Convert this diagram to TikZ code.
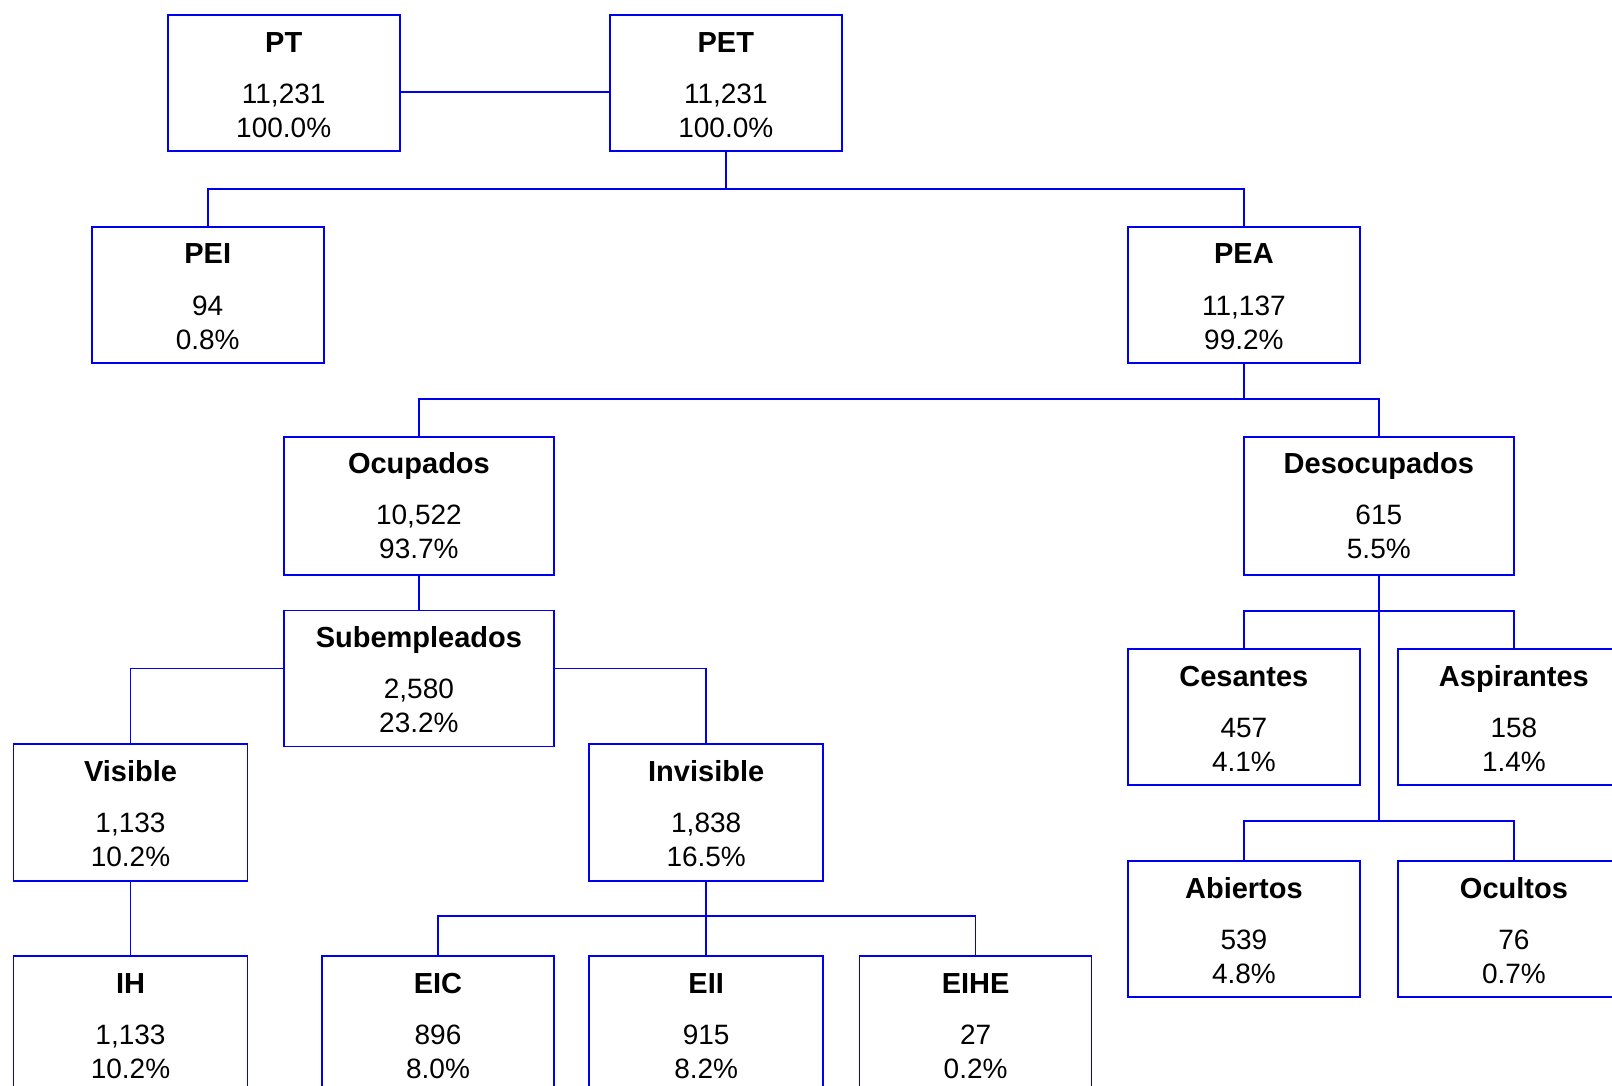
\documentclass[tikz,border=0pt]{standalone}
\usepackage{fontspec}
\setmainfont{Liberation Sans}
\usetikzlibrary{calc}
\definecolor{lineblue}{RGB}{0,0,240}
\tikzset{
  boxstyle/.style={draw=lineblue, line width=1.6pt, rectangle, inner sep=0pt, outer sep=0pt},
  ttl/.style={anchor=base, inner sep=0pt, font=\fontsize{29}{29}\selectfont\bfseries},
  num/.style={anchor=base, inner sep=0pt, font=\fontsize{28}{28}\selectfont},
  conn/.style={draw=lineblue, line width=1.6pt}
}
\newcommand{\dbox}[8]{%
  \node[boxstyle, minimum width=#4, minimum height=#5] (#1) at (#2,#3) {};
  \node[ttl] (#1-t) at ($(#1.north)+(0,37)$) {#6};
  \node[num] (#1-n) at ($(#1.north)+(0,88)$) {#7};
  \node[num] (#1-p) at ($(#1.north)+(0,122)$) {#8};
}
\begin{document}
\begin{tikzpicture}[x=1pt,y=-1pt]
\useasboundingbox (0,0) rectangle (1612,1086);
\fill[white] (0,0) rectangle (1612,1086);
\dbox{PT}{283.7}{83.3}{232pt}{136pt}{PT}{11,231}{100.0\%}
\dbox{PET}{725.8}{83.3}{232pt}{136pt}{PET}{11,231}{100.0\%}
\dbox{PEI}{207.7}{295}{232pt}{136pt}{PEI}{94}{0.8\%}
\dbox{PEA}{1243.9}{295}{232pt}{136pt}{PEA}{11,137}{99.2\%}
\dbox{OCU}{418.9}{505.8}{270pt}{138pt}{Ocupados}{10,522}{93.7\%}
\dbox{DES}{1378.8}{505.8}{270pt}{138pt}{Desocupados}{615}{5.5\%}
\dbox{SUB}{418.9}{678.5}{270pt}{136pt}{Subempleados}{2,580}{23.2\%}
\dbox{VIS}{130.5}{812.6}{234pt}{137pt}{Visible}{1,133}{10.2\%}
\dbox{INV}{706.2}{812.6}{234pt}{137pt}{Invisible}{1,838}{16.5\%}
\dbox{IH}{130.5}{1024.5}{234pt}{137pt}{IH}{1,133}{10.2\%}
\dbox{EIC}{438}{1024.5}{232pt}{137pt}{EIC}{896}{8.0\%}
\dbox{EII}{706.2}{1024.5}{234pt}{137pt}{EII}{915}{8.2\%}
\dbox{EIHE}{975.6}{1024.5}{232pt}{137pt}{EIHE}{27}{0.2\%}
\dbox{CES}{1243.9}{717}{232pt}{136pt}{Cesantes}{457}{4.1\%}
\dbox{ASP}{1513.9}{717}{232pt}{136pt}{Aspirantes}{158}{1.4\%}
\dbox{ABI}{1243.9}{929}{232pt}{136pt}{Abiertos}{539}{4.8\%}
\dbox{OCUL}{1513.9}{929}{232pt}{136pt}{Ocultos}{76}{0.7\%}
% connectors
\draw[conn] ($(PT.east)+(0,9)$) -- ($(PET.west)+(0,9)$);
\draw[conn] (PET.south) -- ++(0,38) coordinate (j1);
\draw[conn] (j1) -| (PEI.north);
\draw[conn] (j1) -| (PEA.north);
\draw[conn] (PEA.south) -- ++(0,36) coordinate (j2);
\draw[conn] (j2) -| (OCU.north);
\draw[conn] (j2) -| (DES.north);
\draw[conn] (OCU.south) -- (SUB.north);
\draw[conn] ($(SUB.west)+(0,-10)$) -| (VIS.north);
\draw[conn] ($(SUB.east)+(0,-10)$) -| (INV.north);
\draw[conn] (VIS.south) -- (IH.north);
\draw[conn] (INV.south) -- (EII.north);
\draw[conn] (INV.south) -- ++(0,35) coordinate (j3);
\draw[conn] (j3) -| (EIC.north);
\draw[conn] (j3) -| (EIHE.north);
\draw[conn] (DES.south) -- ++(0,36) coordinate (j4);
\draw[conn] (j4) -| (CES.north);
\draw[conn] (j4) -| (ASP.north);
\draw[conn] (j4) -- ++(0,210) coordinate (j5);
\draw[conn] (j5) -| (ABI.north);
\draw[conn] (j5) -| (OCUL.north);
\end{tikzpicture}
\end{document}
